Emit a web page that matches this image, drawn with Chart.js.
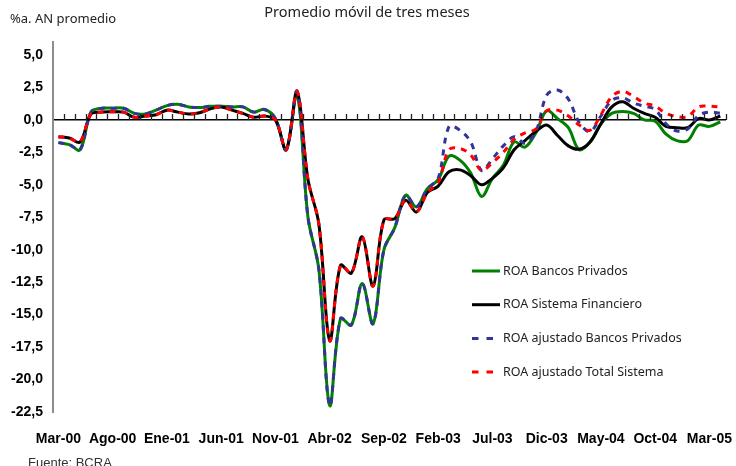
<!DOCTYPE html>
<html>
<head>
<meta charset="utf-8">
<script src="https://cdn.jsdelivr.net/npm/chart.js@4.4.1/dist/chart.umd.min.js"></script>
<style>
  html, body { margin: 0; padding: 0; background: #fff; }
</style>
</head>
<body>
<canvas id="roaChart" width="736" height="466"></canvas>
<script>
// meses (Mar-00 .. Abr-05), etiqueta cada 5
const meses = ["Mar-00","Abr-00","May-00","Jun-00","Jul-00","Ago-00","Sep-00","Oct-00","Nov-00","Dic-00",
    "Ene-01","Feb-01","Mar-01","Abr-01","May-01","Jun-01","Jul-01","Ago-01","Sep-01","Oct-01","Nov-01","Dic-01",
    "Ene-02","Feb-02","Mar-02","Abr-02","May-02","Jun-02","Jul-02","Ago-02","Sep-02","Oct-02","Nov-02","Dic-02",
    "Ene-03","Feb-03","Mar-03","Abr-03","May-03","Jun-03","Jul-03","Ago-03","Sep-03","Oct-03","Nov-03","Dic-03",
    "Ene-04","Feb-04","Mar-04","Abr-04","May-04","Jun-04","Jul-04","Ago-04","Sep-04","Oct-04","Nov-04","Dic-04",
    "Ene-05","Feb-05","Mar-05","Abr-05"];

const roaPrivados = [-1.75,-1.9,-2.3,0.6,0.9,0.9,0.9,0.5,0.45,0.75,
    1.1,1.2,1.0,0.95,1.05,1.05,1.0,1.0,0.6,0.8,
    0.1,-2.3,2.0,-7.5,-11.5,-22.0,-15.3,-15.8,-12.6,-15.7,
    -10.0,-8.3,-5.8,-6.7,-5.3,-4.6,-2.8,-3.1,-4.1,-5.9,
    -4.5,-3.5,-1.7,-2.1,-1.0,0.7,0.1,-0.6,-2.3,-1.7,
    -0.3,0.5,0.65,0.5,0.0,-0.1,-1.1,-1.6,-1.6,-0.4,
    -0.5,-0.15];

const roaSistema = [-1.3,-1.4,-1.7,0.45,0.6,0.62,0.6,0.2,0.3,0.4,
    0.75,0.6,0.45,0.55,0.85,1.0,0.75,0.5,0.2,0.3,
    0.0,-2.3,2.2,-4.6,-8.0,-17.0,-11.2,-11.8,-9.0,-12.8,
    -7.7,-7.6,-6.2,-7.1,-5.6,-5.1,-4.0,-3.85,-4.3,-5.0,
    -4.5,-3.7,-2.3,-1.6,-0.9,-0.4,-1.2,-2.0,-2.25,-1.7,
    -0.3,1.0,1.4,0.9,0.5,0.2,-0.5,-0.6,-0.6,0.1,
    0.0,0.3];

const ajustadoPrivados = [-1.75,-1.9,-2.3,0.6,0.9,0.9,0.9,0.5,0.45,0.75,
    1.1,1.2,1.0,0.95,1.05,1.05,1.0,1.0,0.6,0.8,
    0.1,-2.3,2.2,-7.5,-11.5,-22.0,-15.3,-15.8,-12.6,-15.7,
    -10.0,-8.3,-5.8,-6.7,-5.3,-4.5,-0.5,-0.8,-1.7,-3.9,
    -3.0,-2.0,-1.3,-1.8,-0.9,1.9,2.3,1.6,-0.2,-0.9,
    0.3,1.5,1.7,1.3,1.05,0.8,-0.3,-0.85,-0.7,0.35,
    0.6,0.5];

const ajustadoSistema = [-1.3,-1.4,-1.7,0.45,0.6,0.62,0.6,0.2,0.3,0.4,
    0.75,0.6,0.45,0.55,0.85,1.0,0.75,0.5,0.2,0.3,
    0.0,-2.3,2.2,-4.6,-8.0,-17.0,-11.2,-11.8,-9.0,-12.8,
    -7.7,-7.6,-6.2,-7.1,-5.6,-4.8,-2.3,-2.2,-2.7,-3.9,
    -3.3,-2.5,-1.5,-1.0,-0.7,0.7,0.75,0.3,-0.4,-0.8,
    0.4,1.8,2.2,1.8,1.3,1.05,0.5,0.25,0.25,1.0,
    1.05,1.0];

const titulo = "Promedio móvil de tres meses";
const unidad = "%a. AN promedio";
const fuente = "Fuente: BCRA";

// marcas mensuales sobre el eje cero (entre categorias)
const marcas = {
    id: "marcas",
    afterDatasetsDraw(chart) {
        const ctx = chart.ctx;
        const xs = chart.scales.x;
        const y0 = chart.scales.y.getPixelForValue(0);
        const paso = (xs.right - xs.left) / meses.length;
        ctx.save();
        ctx.strokeStyle = "#222";
        ctx.lineWidth = 1.3;
        ctx.beginPath();
        for (let i = 1; i <= meses.length; i++) {
            const px = Math.round(xs.left + i * paso) + 0.5;
            ctx.moveTo(px, y0);
            ctx.lineTo(px, y0 - 6);
        }
        ctx.stroke();
        ctx.restore();
    }
};

// textos sueltos y leyenda dentro del grafico
const textos = {
    id: "textos",
    afterDraw(chart) {
        const ctx = chart.ctx;
        ctx.save();
        ctx.fillStyle = "#222";
        ctx.textBaseline = "alphabetic";

        ctx.font = '14.5px "Noto Sans"';
        ctx.textAlign = "center";
        ctx.fillText(titulo, 367, 17);

        ctx.font = '13px "Noto Sans"';
        ctx.textAlign = "left";
        ctx.fillText(unidad, 10, 23);

        ctx.font = '13px "Liberation Sans Narrow", "Liberation Sans"';
        ctx.fillStyle = "#333";
        ctx.fillText(fuente, 28, 467);

        // leyenda
        ctx.font = '12.5px "Noto Sans"';
        ctx.fillStyle = "#222";
        ctx.textBaseline = "middle";
        chart.data.datasets.forEach((ds, i) => {
            const y = 271 + i * 33.7;
            ctx.beginPath();
            ctx.strokeStyle = ds.borderColor;
            ctx.lineWidth = 3;
            ctx.setLineDash(ds.borderDash ? [6.5, 8] : []);
            ctx.moveTo(472, y);
            ctx.lineTo(500, y);
            ctx.stroke();
            ctx.setLineDash([]);
            ctx.fillText(ds.label, 503, y);
        });
        ctx.restore();
    }
};

const ctx = document.getElementById("roaChart").getContext("2d");

new Chart(ctx, {
    type: "line",
    data: {
        labels: meses,
        datasets: [
            {
                label: "ROA Bancos Privados",
                data: roaPrivados,
                borderColor: "#008000", borderWidth: 3, order: 4
            },
            {
                label: "ROA Sistema Financiero",
                data: roaSistema,
                borderColor: "#000000", borderWidth: 3, order: 3
            },
            {
                label: "ROA ajustado Bancos Privados",
                data: ajustadoPrivados,
                borderColor: "#333399", borderWidth: 3, borderDash: [6, 6], order: 2
            },
            {
                label: "ROA ajustado Total Sistema",
                data: ajustadoSistema,
                borderColor: "#ff0000", borderWidth: 3, borderDash: [6, 6], order: 1
            }
        ]
    },
    options: {
        responsive: false,
        animation: false,
        layout: { padding: { left: 0, right: 10.3, top: 42, bottom: 0 } },
        elements: {
            point: { radius: 0 },
            line: { tension: 0.35, fill: false, borderCapStyle: "butt" }
        },
        plugins: {
            legend: { display: false },
            title: { display: false },
            tooltip: { enabled: false }
        },
        scales: {
            x: {
                // eje en el cero
                type: "category",
                axis: "x",
                position: { y: 0 },
                offset: true,
                ticks: { display: false },
                grid: { display: false },
                border: { display: true, color: "#000", width: 1.5 }
            },
            x2: {
                type: "category",
                axis: "x",
                position: "bottom",
                offset: true,
                grid: { display: false },
                border: { display: false },
                ticks: {
                    autoSkip: false,
                    maxRotation: 0,
                    minRotation: 0,
                    padding: 11,
                    color: "#000",
                    font: { family: "Liberation Sans", size: 14, weight: "bold" },
                    callback: function (value, index) {
                        return index % 5 === 0 ? meses[index] : "";
                    }
                },
                afterFit(scale) { scale.height = 54; }
            },
            y: {
                min: -22.5,
                max: 6,
                grid: { display: false, drawTicks: false },
                border: { display: true, color: "#8c8c8c", width: 2 },
                ticks: {
                    stepSize: 2.5,
                    includeBounds: false,
                    padding: 10,
                    color: "#000",
                    font: { family: "Liberation Sans", size: 14, weight: "bold" },
                    callback: value => value.toFixed(1).replace(".", ",")
                },
                afterFit(scale) { scale.width = 53; }
            }
        }
    },
    plugins: [marcas, textos]
});
</script>
</body>
</html>
